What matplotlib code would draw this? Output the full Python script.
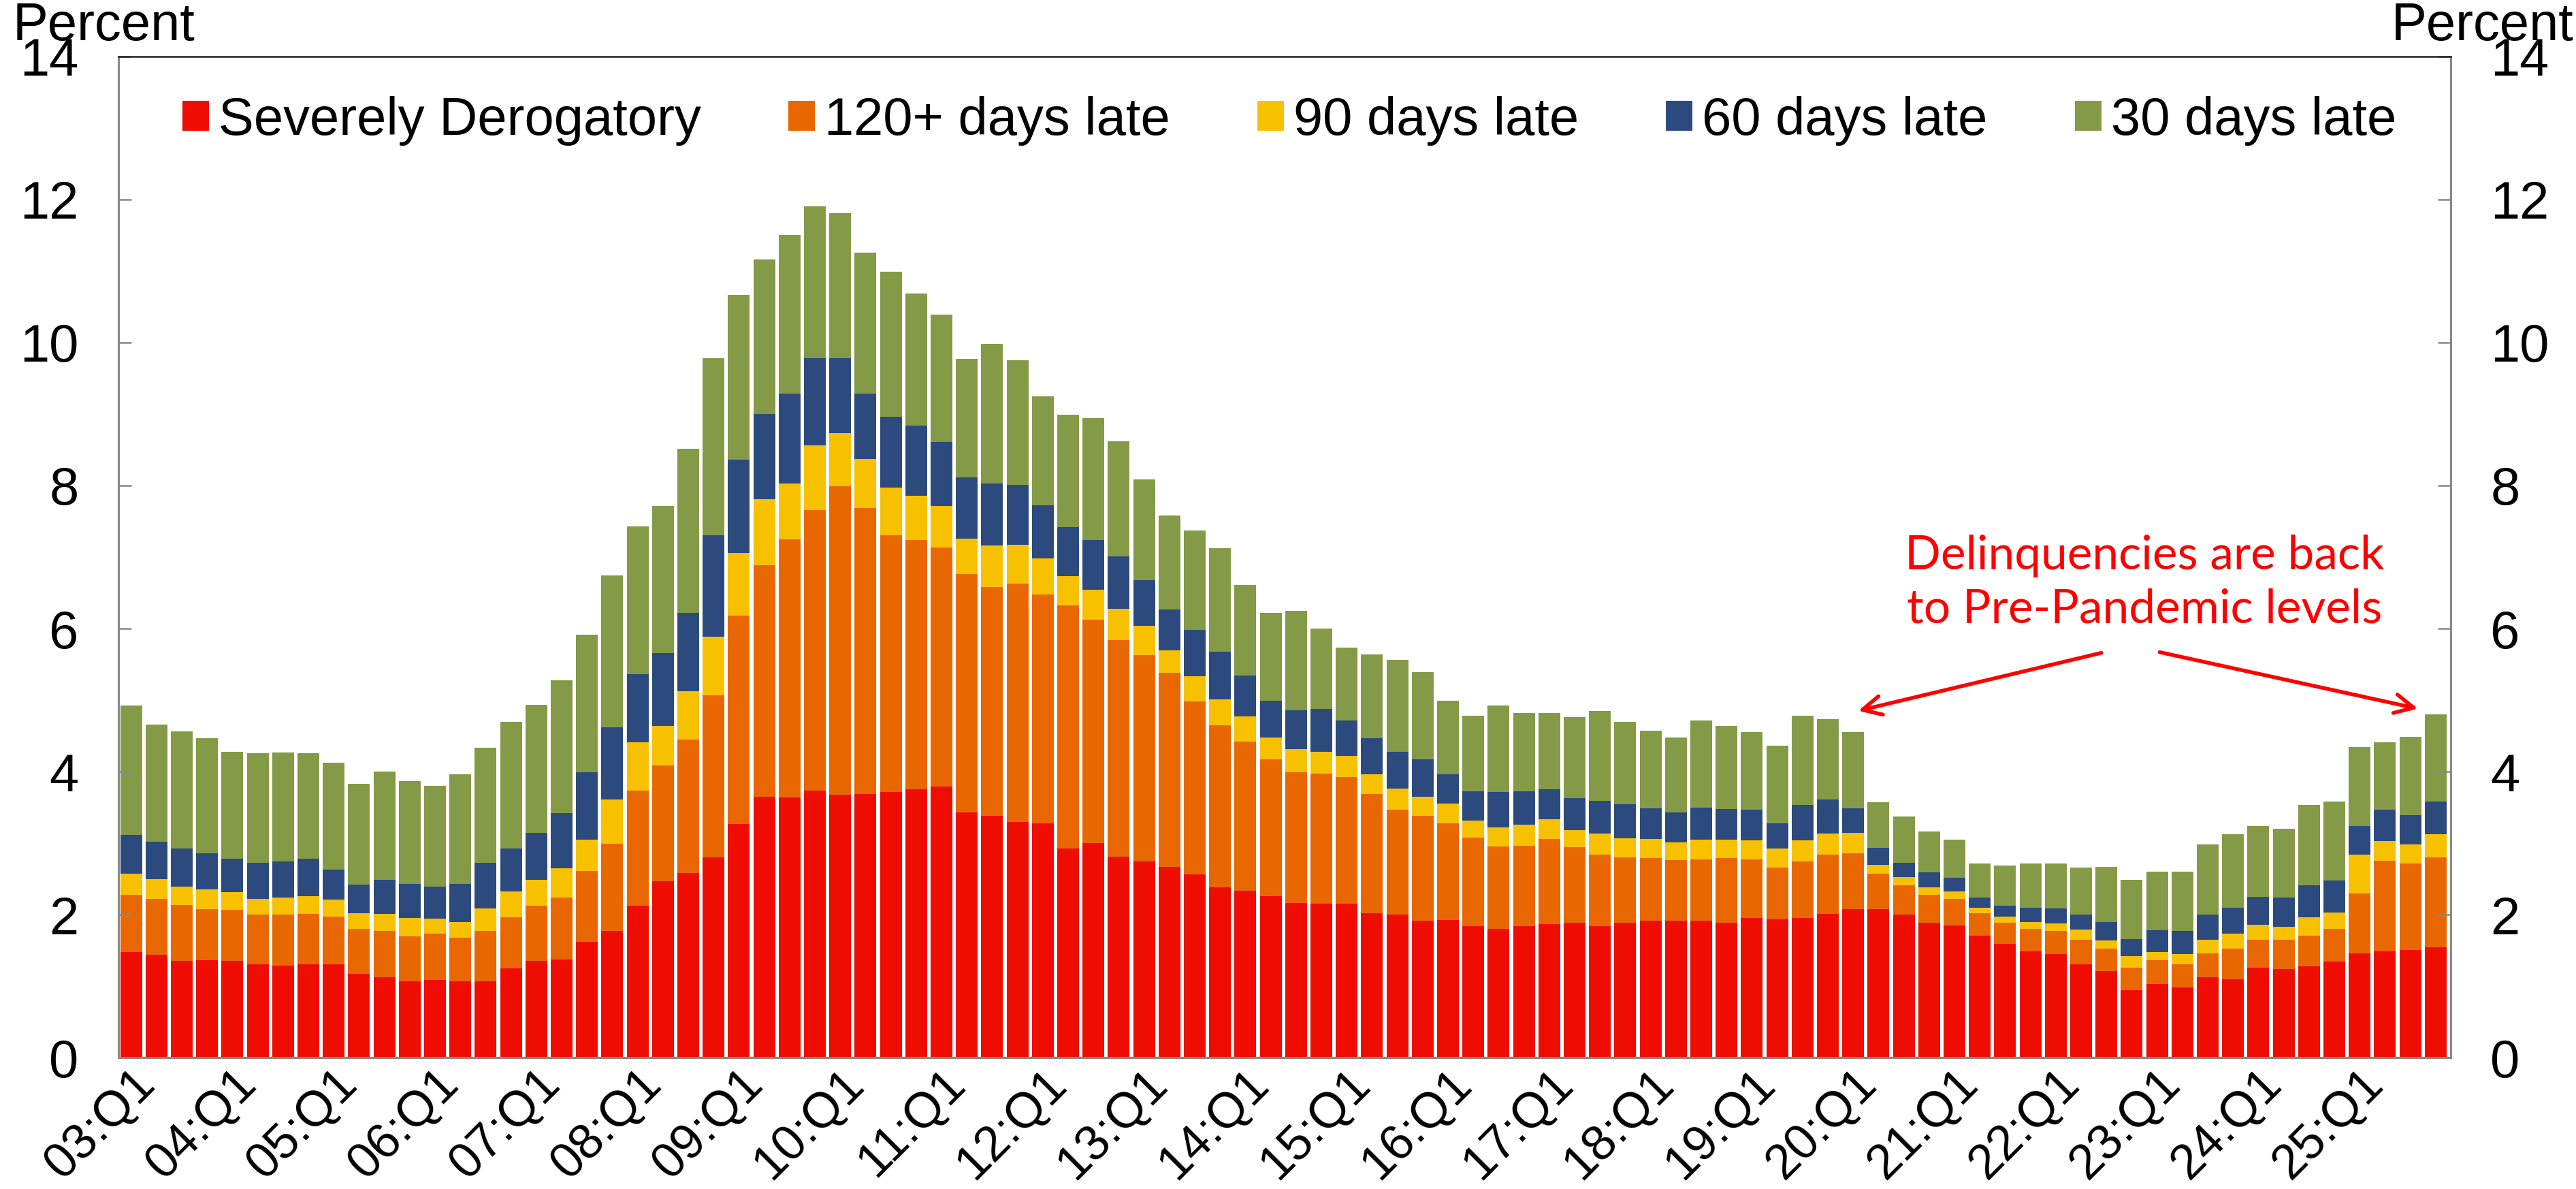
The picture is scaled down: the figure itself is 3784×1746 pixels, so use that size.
import numpy as np
import matplotlib
matplotlib.use('Agg')
import matplotlib.pyplot as plt

plt.rcParams["font.family"] = ["Liberation Sans", "DejaVu Sans"]

# series (percent of balance), quarterly 03:Q1 .. 25:Q4
series_names = ["Severely Derogatory", "120+ days late", "90 days late",
                "60 days late", "30 days late"]
colors = ["#EE0D00", "#E96701", "#F7C100", "#2C4A7D", "#849A46"]

severe = [1.48, 1.44, 1.35, 1.36, 1.35, 1.31, 1.29, 1.31, 1.31, 1.17,
          1.12, 1.07, 1.09, 1.07, 1.07, 1.25, 1.35, 1.37, 1.62, 1.77,
          2.12, 2.47, 2.58, 2.80, 3.27, 3.65, 3.64, 3.73, 3.68, 3.69,
          3.71, 3.75, 3.79, 3.43, 3.38, 3.30, 3.28, 2.92, 3.00, 2.81,
          2.74, 2.67, 2.56, 2.38, 2.33, 2.26, 2.16, 2.15, 2.15, 2.02,
          2.00, 1.91, 1.92, 1.84, 1.80, 1.84, 1.87, 1.89, 1.84, 1.89,
          1.91, 1.91, 1.91, 1.89, 1.95, 1.93, 1.95, 2.01, 2.08, 2.08,
          2.00, 1.89, 1.85, 1.71, 1.59, 1.49, 1.45, 1.31, 1.21, 0.94,
          1.03, 0.98, 1.12, 1.10, 1.26, 1.24, 1.28, 1.34, 1.46, 1.49,
          1.51, 1.54]
late120 = [0.80, 0.78, 0.78, 0.72, 0.72, 0.69, 0.71, 0.70, 0.66, 0.63,
           0.65, 0.63, 0.64, 0.61, 0.70, 0.71, 0.77, 0.87, 0.99, 1.22,
           1.61, 1.62, 1.87, 2.27, 2.91, 3.24, 3.61, 3.93, 4.31, 4.00,
           3.59, 3.49, 3.34, 3.33, 3.20, 3.33, 3.20, 3.40, 3.12, 3.03,
           2.89, 2.71, 2.42, 2.27, 2.09, 1.91, 1.83, 1.82, 1.77, 1.67,
           1.47, 1.47, 1.36, 1.24, 1.15, 1.12, 1.19, 1.05, 1.00, 0.91,
           0.88, 0.85, 0.86, 0.90, 0.82, 0.73, 0.79, 0.83, 0.78, 0.49,
           0.41, 0.39, 0.37, 0.31, 0.30, 0.31, 0.32, 0.34, 0.31, 0.32,
           0.33, 0.33, 0.34, 0.42, 0.39, 0.41, 0.43, 0.46, 0.84, 1.26,
           1.20, 1.26]
late90 = [0.29, 0.28, 0.26, 0.27, 0.24, 0.22, 0.24, 0.25, 0.24, 0.22,
          0.24, 0.25, 0.21, 0.22, 0.32, 0.36, 0.37, 0.41, 0.44, 0.62,
          0.68, 0.55, 0.67, 0.82, 0.88, 0.92, 0.78, 0.90, 0.74, 0.68,
          0.67, 0.62, 0.58, 0.50, 0.58, 0.54, 0.50, 0.41, 0.42, 0.44,
          0.41, 0.32, 0.35, 0.36, 0.35, 0.31, 0.32, 0.31, 0.30, 0.27,
          0.29, 0.27, 0.27, 0.23, 0.27, 0.30, 0.27, 0.24, 0.29, 0.27,
          0.27, 0.25, 0.28, 0.26, 0.27, 0.26, 0.30, 0.29, 0.28, 0.13,
          0.11, 0.10, 0.10, 0.08, 0.08, 0.10, 0.11, 0.14, 0.12, 0.16,
          0.12, 0.14, 0.19, 0.21, 0.21, 0.18, 0.25, 0.23, 0.54, 0.28,
          0.27, 0.32]
late60 = [0.54, 0.52, 0.53, 0.51, 0.47, 0.50, 0.50, 0.52, 0.42, 0.40,
          0.48, 0.48, 0.45, 0.53, 0.63, 0.60, 0.65, 0.77, 0.94, 1.01,
          0.95, 1.02, 1.10, 1.41, 1.30, 1.19, 1.26, 1.22, 1.05, 0.92,
          0.99, 0.98, 0.90, 0.85, 0.87, 0.84, 0.74, 0.69, 0.70, 0.73,
          0.64, 0.57, 0.65, 0.67, 0.57, 0.51, 0.55, 0.60, 0.49, 0.51,
          0.52, 0.52, 0.41, 0.41, 0.49, 0.46, 0.42, 0.45, 0.46, 0.47,
          0.43, 0.42, 0.45, 0.43, 0.43, 0.36, 0.49, 0.48, 0.35, 0.23,
          0.20, 0.21, 0.19, 0.14, 0.15, 0.20, 0.21, 0.21, 0.26, 0.24,
          0.30, 0.32, 0.35, 0.37, 0.39, 0.41, 0.45, 0.45, 0.40, 0.44,
          0.41, 0.46]
late30 = [1.81, 1.64, 1.64, 1.61, 1.50, 1.54, 1.53, 1.48, 1.49, 1.41,
          1.51, 1.44, 1.41, 1.53, 1.61, 1.78, 1.79, 1.86, 1.92, 2.12,
          2.07, 2.05, 2.29, 2.48, 2.31, 2.16, 2.21, 2.12, 2.03, 1.97,
          2.03, 1.85, 1.78, 1.66, 1.95, 1.74, 1.53, 1.57, 1.70, 1.61,
          1.41, 1.31, 1.39, 1.44, 1.27, 1.23, 1.39, 1.12, 1.02, 1.17,
          1.28, 1.22, 1.03, 1.06, 1.21, 1.10, 1.07, 1.13, 1.26, 1.16,
          1.08, 1.05, 1.21, 1.16, 1.08, 1.08, 1.25, 1.12, 1.06, 0.64,
          0.65, 0.57, 0.54, 0.47, 0.57, 0.61, 0.62, 0.66, 0.77, 0.83,
          0.82, 0.83, 0.98, 1.02, 0.99, 0.96, 1.12, 1.10, 1.10, 0.94,
          1.10, 1.22]

tick_labels = ["03:Q1", "04:Q1", "05:Q1", "06:Q1", "07:Q1", "08:Q1",
               "09:Q1", "10:Q1", "11:Q1", "12:Q1", "13:Q1", "14:Q1",
               "15:Q1", "16:Q1", "17:Q1", "18:Q1", "19:Q1", "20:Q1",
               "21:Q1", "22:Q1", "23:Q1", "24:Q1", "25:Q1"]

note = "Delinquencies are back\nto Pre-Pandemic levels"

fig = plt.figure(figsize=(37.84, 17.46), dpi=100, facecolor="white")
ax = fig.add_axes([0.046, 0.1105, 0.9054, 0.842])

x = np.arange(len(severe))
bottom = np.zeros(len(severe))
for vals, name, c in zip([severe, late120, late90, late60, late30], series_names, colors):
    ax.bar(x, vals, width=0.86, bottom=bottom, color=c, label=name, linewidth=0)
    bottom += np.array(vals)

ax.set_xlim(-0.5, len(severe) - 0.4)
ax.set_ylim(0, 14)
ax.set_yticks(range(0, 15, 2))
ax.tick_params(axis="y", direction="in", length=14, width=1.8, color="#888888",
               labelsize=56, pad=42, right=True, labelright=True)
ax.set_xticks(x[::4])
ax.set_xticklabels(tick_labels, rotation=45, ha="right", rotation_mode="anchor", fontsize=52)
ax.tick_params(axis="x", length=0, pad=3)

for side in ["left", "right", "bottom"]:
    ax.spines[side].set_color("#888888")
    ax.spines[side].set_linewidth(2.2)
ax.spines["top"].set_color("#222222")
ax.spines["top"].set_linewidth(1.8)

ax.legend(loc="center", bbox_to_anchor=(0.502, 0.936), ncol=5, frameon=False,
          fontsize=56, handlelength=0.5, handleheight=0.5, handletextpad=0.18,
          columnspacing=1.65)

# axis unit labels
fig.text(0.005, 0.966, "Percent", ha="left", va="baseline", fontsize=56)
fig.text(0.999, 0.966, "Percent", ha="right", va="baseline", fontsize=56)

# annotation with two arrows
ax.text(79.5, 6.64, note, color="red", ha="center", va="center", fontsize=50,
        family=["Lato", "DejaVu Sans"], linespacing=1.3)
arrow = dict(arrowstyle="->", color="red", lw=4, mutation_scale=50, shrinkA=0, shrinkB=0)
ax.annotate("", xy=(68.2, 4.85), xytext=(77.8, 5.66), arrowprops=arrow)
ax.annotate("", xy=(90.3, 4.88), xytext=(80.1, 5.67), arrowprops=arrow)

fig.savefig("out.png", dpi=100, facecolor="white")
